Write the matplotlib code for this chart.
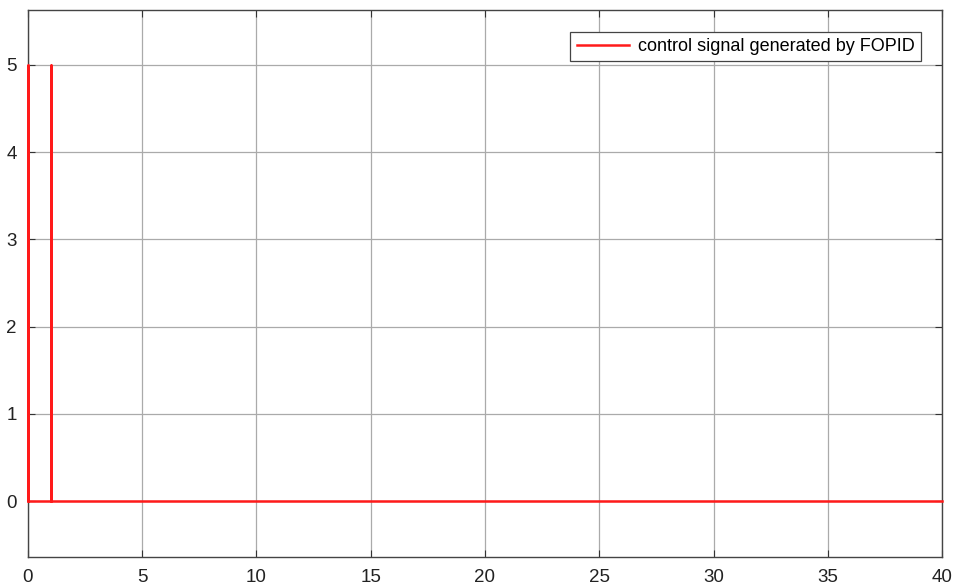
import numpy as np
import matplotlib
matplotlib.use('Agg')
import matplotlib.pyplot as plt

# 控制信号数据 (FOPID)
t = [0, 0, 0, 1, 1, 1, 40]
u = [0, 5, 0, 0, 5, 0, 0]

x_ticks = [0, 5, 10, 15, 20, 25, 30, 35, 40]
y_ticks = [0, 1, 2, 3, 4, 5]

plt.rcParams['font.family'] = ['Liberation Sans', 'DejaVu Sans']
plt.rcParams['font.size'] = 12

fig = plt.figure(figsize=(9.55, 5.86), dpi=100)
ax = fig.add_axes([0.0293, 0.0495, 0.9571, 0.9335])

ax.plot(t, u, color='#ff1a1a', linewidth=1.8, label='control signal generated by FOPID',
        clip_on=False, zorder=5)

ax.set_xlim(0, 40)
ax.set_ylim(-0.64, 5.63)
ax.set_xticks(x_ticks)
ax.set_yticks(y_ticks)
ax.tick_params(direction='in', length=5, color='#333333', labelcolor='#222222',
               labelsize=13.5, top=True, right=True)
ax.tick_params(axis='y', pad=8)
ax.tick_params(axis='x', pad=9)
ax.grid(True, color='#aaaaaa', linewidth=0.9)
for s in ax.spines.values():
    s.set_color('#444444')
    s.set_linewidth(1.0)

leg = ax.legend(loc='upper right', bbox_to_anchor=(0.977, 0.96), fontsize=13,
                fancybox=False, framealpha=1, edgecolor='#444444', borderaxespad=0,
                borderpad=0.35, handlelength=2.9, handletextpad=0.5)
leg.get_frame().set_linewidth(0.9)

plt.savefig('out.png', dpi=100)
